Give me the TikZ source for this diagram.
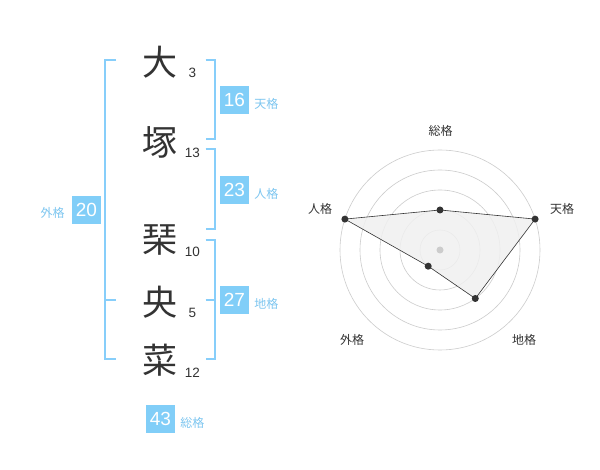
\documentclass[tikz,border=0pt]{standalone}
\usepackage{fontspec}
\usetikzlibrary{positioning}
\setmainfont{Liberation Sans}
\newfontfamily\cjk{Noto Sans CJK JP}
\definecolor{boxblue}{RGB}{129,206,248}
\definecolor{braceblue}{RGB}{135,206,250}
\definecolor{kakublue}{RGB}{125,198,240}
\definecolor{ink}{RGB}{51,51,51}
\definecolor{ring}{RGB}{204,204,204}
\definecolor{area}{RGB}{240,240,240}
\tikzset{
	kanji/.style={text=ink, inner sep=0pt, font=\cjk\fontsize{35}{35}\selectfont},
	strokes/.style={text=ink, inner sep=0pt, font=\fontsize{13.5}{14}\selectfont},
	score/.style={fill=boxblue, text=white, inner sep=0pt, minimum width=29pt, minimum height=28pt, font=\fontsize{19}{19}\selectfont},
	kaku/.style={text=kakublue, inner sep=0pt, font=\cjk\fontsize{12}{12}\selectfont},
	axis/.style={text=ink, inner sep=0pt, font=\cjk\fontsize{12}{12}\selectfont},
	brace/.style={draw=braceblue, line width=2pt},
	dot/.style={circle, fill=ink, inner sep=0pt, minimum size=7pt}
}
\begin{document}
\begin{tikzpicture}[x=1pt,y=-1pt]
	\useasboundingbox[fill=white] (0,0) rectangle (600,470);
	
		% name
		\node[kanji] (dai) at (160, 62) {大};
		\node[kanji] (tsuka) at (160, 142) {塚};
		\node[kanji] (koto) at (160, 240) {琹};
		\node[kanji] (o) at (160, 302) {央};
		\node[kanji] (na) at (160, 360) {菜};
		
		% strokes
		\node[strokes] (s1) at (192.5, 73) {3};
		\node[strokes] (s2) at (192.5, 153) {13};
		\node[strokes] (s3) at (192.5, 252) {10};
		\node[strokes] (s4) at (192.5, 313) {5};
		\node[strokes] (s5) at (192.5, 373) {12};
		
		% brackets
		\draw[brace] (116, 60) -- (105, 60) -- (105, 359.5) -- (116, 359.5);
		\draw[brace] (105, 300) -- (116, 300);
		\draw[brace] (205.5, 60) -- (214.5, 60) -- (214.5, 139.5) -- (205.5, 139.5);
		\draw[brace] (205.5, 149.5) -- (214.5, 149.5) -- (214.5, 229.5) -- (205.5, 229.5);
		\draw[brace] (205.5, 240) -- (214.5, 240) -- (214.5, 359.5) -- (205.5, 359.5);
		\draw[brace] (205.5, 300) -- (214.5, 300);
		
		% scores
		\node[score] (ten) at (234.5, 100) {16};
		\node[kaku, right=5pt of ten, yshift=-4pt] (tenl) {天格};
		\node[score] (jin) at (234.5, 190) {23};
		\node[kaku, right=5pt of jin, yshift=-4pt] (jinl) {人格};
		\node[score] (chi) at (234.5, 300) {27};
		\node[kaku, right=5pt of chi, yshift=-4pt] (chil) {地格};
		\node[score] (gai) at (86.5, 210) {20};
		\node[kaku, left=7pt of gai, yshift=-3pt] (gail) {外格};
		\node[score] (so) at (160.5, 419) {43};
		\node[kaku, right=5pt of so, yshift=-4pt] (sol) {総格};
		
		% radar
		\coordinate (ctr) at (440, 250);
		\draw[ring, line width=0.6pt] (ctr) circle[radius=20pt];
		\draw[ring, line width=0.6pt] (ctr) circle[radius=40pt];
		\draw[ring, line width=0.6pt] (ctr) circle[radius=60pt];
		\draw[ring, line width=0.6pt] (ctr) circle[radius=80pt];
		\draw[ring, line width=0.6pt] (ctr) circle[radius=100pt];
		
		\coordinate (pso) at (440, 210);
		\coordinate (pten) at (535.1, 219.1);
		\coordinate (pchi) at (475.3, 298.5);
		\coordinate (pgai) at (428.2, 266.2);
		\coordinate (pjin) at (344.9, 219.1);
		\draw[fill=area, fill opacity=0.85, draw=ink, line width=0.6pt]
		(pso) -- (pten) -- (pchi) -- (pgai) -- (pjin) -- cycle;
		
		\node[circle, fill=ring, inner sep=0pt, minimum size=7pt] (mid) at (ctr) {};
		\node[dot] (dso) at (pso) {};
		\node[dot] (dten) at (pten) {};
		\node[dot] (dchi) at (pchi) {};
		\node[dot] (dgai) at (pgai) {};
		\node[dot] (djin) at (pjin) {};
		
		\node[axis] (aso) at (440.5, 130.5) {総格};
		\node[axis] (aten) at (562, 209) {天格};
		\node[axis] (ajin) at (320, 209) {人格};
		\node[axis] (agai) at (352, 340) {外格};
		\node[axis] (achi) at (524, 340) {地格};
	
	\end{tikzpicture}
\end{document}
